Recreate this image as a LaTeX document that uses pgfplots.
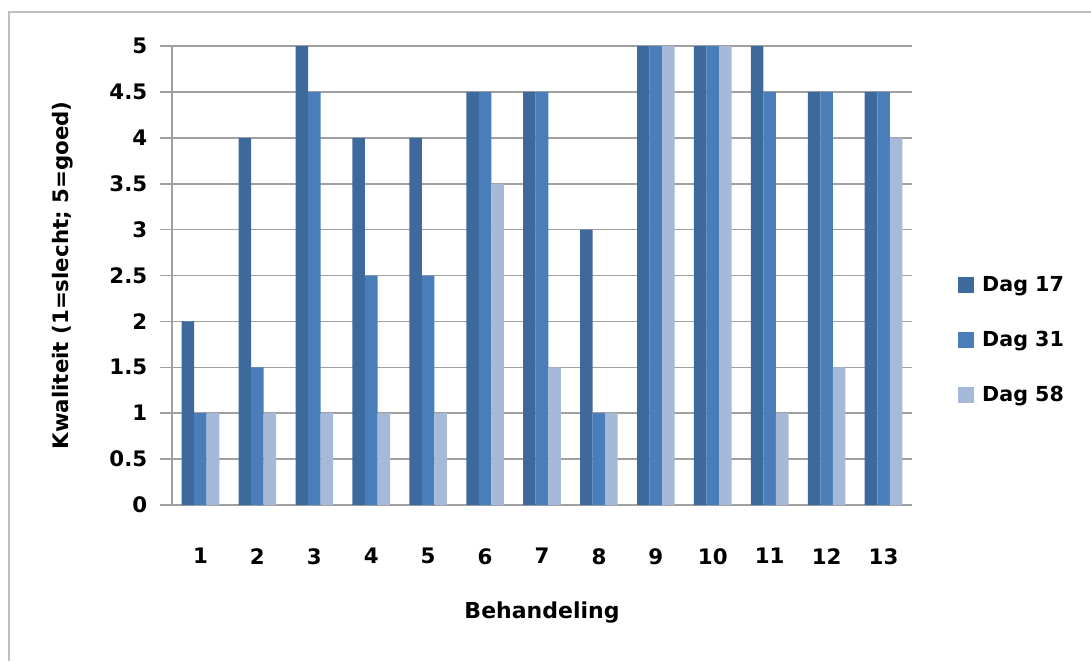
\documentclass[border=0pt]{standalone}
\usepackage{fontspec}
\setmainfont{DejaVu Sans}
\usepackage{pgfplots}
\pgfplotsset{compat=1.18}
\usepackage{pgfplotstable}

\definecolor{dagA}{RGB}{62,105,157}
\definecolor{dagB}{RGB}{74,126,187}
\definecolor{dagC}{RGB}{167,185,216}
\definecolor{gridc}{RGB}{160,160,160}
\definecolor{framec}{RGB}{190,190,190}

% Behandeling, Dag 17, Dag 31, Dag 58
\pgfplotstableread{
b  d17 d31 d58
1  2   1   1
2  4   1.5 1
3  5   4.5 1
4  4   2.5 1
5  4   2.5 1
6  4.5 4.5 3.5
7  4.5 4.5 1.5
8  3   1   1
9  5   5   5
10 5   5   5
11 5   4.5 1
12 4.5 4.5 1.5
13 4.5 4.5 4
}\kwaliteit

\begin{document}
\begin{tikzpicture}
\path[use as bounding box] (0pt,0pt) rectangle (818.25pt,495.75pt);
\draw[framec, line width=1.5pt] (6.75pt,0pt) -- (6.75pt,486.75pt) -- (818.25pt,486.75pt);
\begin{axis}[
    at={(129pt,117pt)}, anchor=south west,
    scale only axis,
    width=555pt, height=344.25pt,
    ybar=0pt, bar width=9.4pt,
    xmin=0.5, xmax=13.5,
    ymin=0, ymax=5,
    xtick={1,...,13},
    ytick={0,0.5,...,5},
    ymajorgrids,
    grid style={gridc, line width=1.2pt},
    axis x line*=bottom, axis y line*=left,
    axis line style={gridc, line width=1.5pt, -},
    tick align=outside,
    major tick length=9pt,
    xtick style={draw=none},
    ytick style={gridc, line width=1.2pt},
    /pgf/number format/assume math mode=true,
    ticklabel style={font=\bfseries\fontsize{16}{19}\selectfont},
    yticklabel style={xshift=-6pt},
    xticklabel style={yshift=-20pt},
    xlabel={Behandeling},
    ylabel={Kwaliteit (1=slecht; 5=goed)},
    every axis x label/.style={at={(axis description cs:0.5,-0.2353)}, anchor=center,
        font=\bfseries\fontsize{16.5}{19}\selectfont},
    every axis y label/.style={at={(axis description cs:-0.1473,0.5)}, anchor=center, rotate=90,
        font=\bfseries\fontsize{16}{19}\selectfont},
    legend image code/.code={\path[#1, draw=none] (0pt,-6pt) rectangle (12pt,6pt);},
    legend style={at={(axis description cs:1.062,0.3595)}, anchor=west, draw=none,
        fill=none, inner xsep=0pt, inner ysep=0pt,
        font=\bfseries\fontsize{15.5}{18}\selectfont,
        row sep=24pt, cells={anchor=west},
        /tikz/every odd column/.append style={column sep=4pt}},
]
\addplot[fill=dagA, draw=none] table[x=b, y=d17] {\kwaliteit};
\addplot[fill=dagB, draw=none] table[x=b, y=d31] {\kwaliteit};
\addplot[fill=dagC, draw=none] table[x=b, y=d58] {\kwaliteit};
\legend{Dag 17, Dag 31, Dag 58}
\end{axis}
\end{tikzpicture}
\end{document}
